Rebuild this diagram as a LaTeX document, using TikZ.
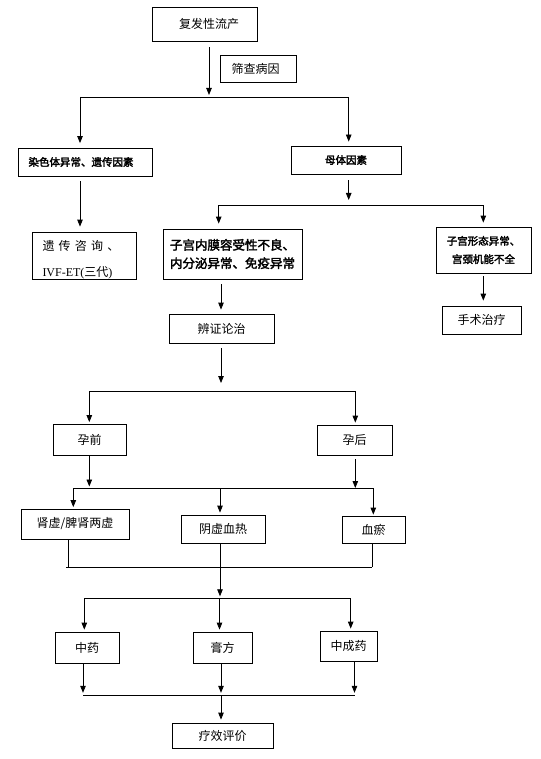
\documentclass[tikz,border=0pt]{standalone}
\usepackage{fontspec}
\setmainfont{Liberation Serif}
\newfontfamily\cjk[AutoFakeBold=2.5]{Noto Sans CJK SC}
\usetikzlibrary{arrows.meta,calc}
\begin{document}
\begin{tikzpicture}[x=1pt,y=-1pt,
  box/.style={draw, line width=0.8pt, inner sep=0pt, align=center, font=\cjk\fontsize{12}{14}\selectfont},
  bsmall/.style={box, font=\cjk\bfseries\fontsize{10.5}{18.3}\selectfont},
  blarge/.style={box, font=\cjk\bfseries\fontsize{12.5}{18.3}\selectfont},
  ln/.style={line width=0.8pt},
  arr/.style={ln, -{Triangle[length=7pt,width=5.5pt]}},
]
\useasboundingbox (0,0) rectangle (540,759);
\fill[white] (0,0) rectangle (540,759);

% nodes
\node[box, minimum width=105pt, minimum height=34pt] (top) at (204.5,24) {\hspace*{9pt}复发性流产};
\node[box, minimum width=76pt, minimum height=27pt] (screen) at (258,68.5) {筛查病因\hspace*{5pt}};
\node[bsmall, minimum width=134pt, minimum height=28pt] (chrom) at (85,162) {染色体异常、遗传因素\hspace*{8pt}};
\node[bsmall, minimum width=110pt, minimum height=28pt] (mother) at (346,160) {母体因素};
\node[box, minimum width=104pt, minimum height=47pt, align=left] (genetic) at (84,255.5)
  {\rule{0pt}{18pt}\makebox[77pt][s]{遗\hfill 传\hfill 咨\hfill 询\hfill 、}\hspace*{6pt}\\[12pt]{\rmfamily IVF-ET(}三代{\rmfamily )}};
\node[blarge, minimum width=139pt, minimum height=50pt] (endo) at (232.5,254) {子宫内膜容受性不良、\\内分泌异常、免疫异常};
\node[bsmall, minimum width=95pt, minimum height=46pt] (uterus) at (483.5,250) {子宫形态异常、\\宫颈机能不全};
\node[box, minimum width=79pt, minimum height=28pt] (surgery) at (481.5,320) {手术治疗};
\node[box, minimum width=105pt, minimum height=29pt] (bian) at (221.5,328.5) {辨证论治};
\node[box, minimum width=73pt, minimum height=31pt] (pre) at (89.5,439.5) {孕前};
\node[box, minimum width=75pt, minimum height=30pt] (post) at (354.5,440) {孕后};
\node[box, minimum width=108pt, minimum height=30pt] (kidney) at (75,524) {肾虚/脾肾两虚};
\node[box, minimum width=84pt, minimum height=28pt] (yin) at (223,529) {阴虚血热};
\node[box, minimum width=63pt, minimum height=27pt] (stasis) at (373.5,529.5) {血瘀};
\node[box, minimum width=64pt, minimum height=31pt] (zy) at (87,647.5) {中药};
\node[box, minimum width=59pt, minimum height=31pt] (gf) at (222.5,647.5) {膏方};
\node[box, minimum width=57pt, minimum height=30pt] (zcy) at (348.5,646) {中成药};
\node[box, minimum width=101pt, minimum height=25pt] (eval) at (222.5,735.5) {疗效评价};

% junction coordinates
\coordinate (j1) at (209,97);
\coordinate (b1L) at (80,97);
\coordinate (b1R) at (348.7,97);
\coordinate (m1) at (348.7,205.5);
\coordinate (b2L) at (218.7,205.5);
\coordinate (b2R) at (483.3,205.5);
\coordinate (j3) at (221,391);
\coordinate (b3L) at (89.3,391);
\coordinate (b3R) at (355.3,391);
\coordinate (b4L) at (73.3,488);
\coordinate (b4M) at (220,488);
\coordinate (b4R) at (373.3,488);
\coordinate (b5L) at (66,567);
\coordinate (b5a) at (68.7,567);
\coordinate (b5M) at (220,567);
\coordinate (b5R) at (372.3,567);
\coordinate (b6L) at (84.3,598.3);
\coordinate (b6M) at (219.5,598.3);
\coordinate (b6R) at (350.7,598.3);
\coordinate (b7L) at (83,695.3);
\coordinate (b7M) at (221,695.3);
\coordinate (b7R) at (354.5,695.3);

% connectors
\draw[arr, shorten <=6pt, shorten >=2pt] (top.south -| j1) -- (j1);
\draw[ln] (b1L) -- (b1R);
\draw[arr, shorten >=4.5pt] (b1L) -- (chrom.north -| b1L);
\draw[arr, shorten >=4pt] (b1R) -- (mother.north -| b1R);
\draw[arr, shorten <=5pt, shorten >=5pt] (chrom.south -| b1L) -- (genetic.north -| b1L);
\draw[arr, shorten <=6pt, shorten >=5.5pt] (mother.south -| b1R) -- (m1);
\draw[ln] (b2L) -- (b2R);
\draw[arr, shorten >=5pt] (b2L) -- (endo.north -| b2L);
\draw[arr, shorten >=4pt] (b2R) -- (uterus.north -| b2R);
\draw[arr, shorten <=3pt, shorten >=5pt] (uterus.south -| b2R) -- (surgery.north -| b2R);
\draw[arr, shorten <=5pt, shorten >=4pt] (endo.south -| j3) -- (bian.north -| j3);
\draw[arr, shorten <=5pt, shorten >=8pt] (bian.south -| j3) -- (j3);
\draw[ln] (b3L) -- (b3R);
\draw[arr, shorten >=1.5pt] (b3L) -- (pre.north -| b3L);
\draw[arr, shorten >=2pt] (b3R) -- (post.north -| b3R);
\draw[arr, shorten >=1.5pt] (pre.south -| b3L) -- (b3L |- b4L);
\draw[arr, shorten <=4pt] (post.south -| b3R) -- (b3R |- b4L);
\draw[ln] (b4L) -- (b4R);
\draw[arr, shorten >=1.5pt] (b4L) -- (kidney.north -| b4L);
\draw[arr, shorten >=2pt] (b4M) -- (yin.north -| b4M);
\draw[arr, shorten >=1pt] (b4R) -- (stasis.north -| b4R);
\draw[ln] (kidney.south -| b5a) -- (b5a);
\draw[ln] (yin.south -| b5M) -- (b5M);
\draw[ln] (stasis.south -| b5R) -- (b5R);
\draw[ln] (b5L) -- (b5R);
\draw[arr, shorten >=2pt] (b5M) -- (b5M |- b6M);
\draw[ln] (b6L) -- (b6R);
\draw[arr, shorten >=2pt] (b6L) -- (zy.north -| b6L);
\draw[arr, shorten >=2pt] (b6M) -- (gf.north -| b6M);
\draw[arr, shorten >=2pt] (b6R) -- (zcy.north -| b6R);
\draw[arr, shorten >=2.5pt] (zy.south -| b7L) -- (b7L);
\draw[arr, shorten >=2.5pt] (gf.south -| b7M) -- (b7M);
\draw[arr, shorten >=2.5pt] (zcy.south -| b7R) -- (b7R);
\draw[ln] (b7L) -- (b7R);
\draw[arr, shorten >=3pt] (b7M) -- (eval.north -| b7M);
\end{tikzpicture}
\end{document}
